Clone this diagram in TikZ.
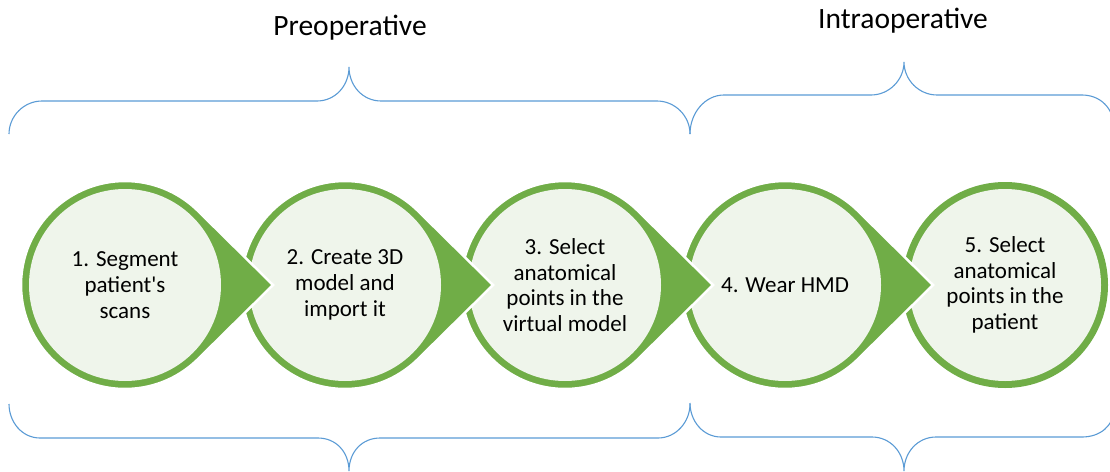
\documentclass[tikz,border=0pt]{standalone}
\usepackage{fontspec}
\setmainfont{Carlito}[Ligatures=TeXOff]

\definecolor{stepgreen}{HTML}{70AD47}
\definecolor{steplight}{HTML}{EFF5EB}
\definecolor{braceblue}{HTML}{5B9BD5}

\tikzset{
  stepdisc/.style={circle,fill=steplight,minimum size=192pt,inner sep=0pt,
    align=center,font=\fontsize{23}{25.7}\selectfont},
  steparrow/.style={fill=stepgreen,draw=white,line width=2.5pt},
  bracket/.style={draw=braceblue,line width=1.1pt},
  phase/.style={anchor=base,font=\fontsize{29.5}{31}\selectfont}
}

\begin{document}
\begin{tikzpicture}[x=1pt,y=-1pt]
        \useasboundingbox (0,0) rectangle (1110,471);

        % steps from right to left, so each arrow lies over the next circle
        \foreach \i/\txt in {5/{5. Select\\anatomical\\points in the\\patient},
                             4/{4. Wear HMD},
                             3/{3. Select\\anatomical\\points in the\\virtual model},
                             2/{2. Create 3D\\model and\\import it},
                             1/{1. Segment\\patient's\\scans}}{
            \coordinate (c\i) at ({125+220*(\i-1)},285);
            \ifnum\i<5
                \path (c\i) ++(148,0) coordinate (t\i);
                \filldraw[steparrow] (c\i) ++(46:104) arc[start angle=46,end angle=314,radius=104] -- (t\i) -- cycle;
            \else
                \fill[stepgreen] (c\i) circle[radius=103];
            \fi
            \node[stepdisc] (s\i) at (c\i) {\txt};
        }

        \node[phase] (pre) at (350,35) {Preoperative};
        \node[phase] (intra) at (903,28) {Intraoperative};

        % braces
        \draw[bracket] (9,134) .. controls (9,116) and (24,101) .. (42,101) -- (317,101)
            .. controls (335,101) and (349,86) .. (349,67) .. controls (349,86) and (363,101) .. (381,101)
            -- (657,101) .. controls (675,101) and (690,116) .. (690,134);
        \draw[bracket] (690,134) .. controls (690,113) and (705,95) .. (724,95) -- (871,95)
            .. controls (889,95) and (904,80) .. (904,62) .. controls (904,80) and (919,95) .. (937,95)
            -- (1082,95) .. controls (1100,95) and (1114,108) .. (1114,128);
        \draw[bracket] (9,404) .. controls (9,422) and (22,438) .. (40,438) -- (318,438)
            .. controls (336,438) and (349,452) .. (349,471) .. controls (349,452) and (362,438) .. (380,438)
            -- (658,438) .. controls (676,438) and (690,422) .. (690,404);
        \draw[bracket] (690,403) .. controls (690,421) and (703,437) .. (721,437) -- (872,437)
            .. controls (890,437) and (904,452) .. (904,471) .. controls (904,452) and (918,437) .. (936,437)
            -- (1082,437) .. controls (1100,437) and (1114,426) .. (1114,408);
\end{tikzpicture}
\end{document}
